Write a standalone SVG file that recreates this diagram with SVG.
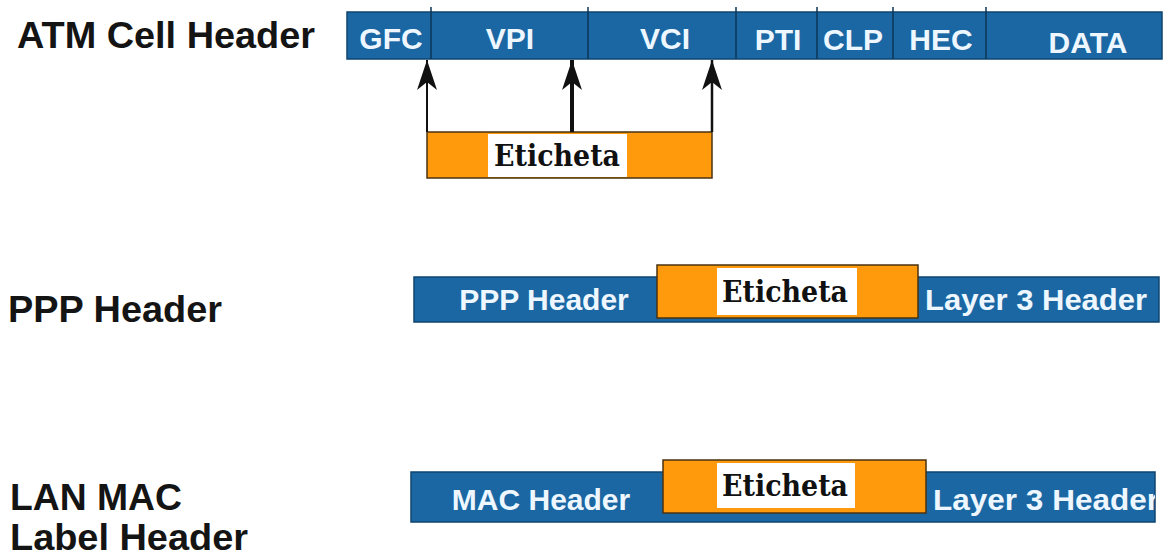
<svg xmlns="http://www.w3.org/2000/svg" width="1168" height="559" viewBox="0 0 1168 559">
<style>
.bg{fill:#ffffff}
.title{font-family:"Liberation Sans",Arial,sans-serif;font-weight:bold;font-size:37px;fill:#141414}
.bar{fill:#1a67a3;stroke:#0e4470;stroke-width:1.5}
.div{stroke:#0d3656;stroke-width:1.5}
.wt{font-family:"Liberation Sans",Arial,sans-serif;font-weight:bold;font-size:30px;fill:#eef7ff}
.lab{fill:#ff9a0c;stroke:#4a3210;stroke-width:1.5}
.lbw{fill:#ffffff}
.et{font-family:"DejaVu Serif","Liberation Serif",serif;font-weight:bold;font-size:30px;fill:#111111}
.arr{stroke:#111111;fill:none}
</style>
<defs>
<marker id="ah" markerUnits="userSpaceOnUse" viewBox="-30 -10 31 20" refX="0" refY="0" markerWidth="31" markerHeight="20" orient="auto">
<path d="M0,0 L-30,-10 L-22,0 L-30,10 Z" fill="#111111"/>
</marker>
<clipPath id="lanclip"><rect x="411" y="460" width="744" height="70"/></clipPath>
</defs>
<rect class="bg" x="0" y="0" width="1168" height="559"/>

<g id="atm-label"><text class="title" x="17" y="48" textLength="298" lengthAdjust="spacingAndGlyphs">ATM Cell Header</text></g>
<g id="ppp-label"><text class="title" x="8" y="322" textLength="214" lengthAdjust="spacingAndGlyphs">PPP Header</text></g>
<g id="lan-label"><text class="title" x="10" y="510" textLength="172" lengthAdjust="spacingAndGlyphs">LAN MAC</text><text class="title" x="10" y="550" textLength="238" lengthAdjust="spacingAndGlyphs">Label Header</text></g>

<g id="atm-header">
<rect class="bar" x="347" y="12" width="815" height="47"/>
<line class="div" x1="431" y1="7" x2="431" y2="59"/>
<line class="div" x1="588" y1="7" x2="588" y2="59"/>
<line class="div" x1="736" y1="7" x2="736" y2="59"/>
<line class="div" x1="817" y1="7" x2="817" y2="59"/>
<line class="div" x1="893" y1="7" x2="893" y2="59"/>
<line class="div" x1="986" y1="7" x2="986" y2="59"/>
<text class="wt" x="391" y="49" text-anchor="middle">GFC</text>
<text class="wt" x="510" y="49" text-anchor="middle">VPI</text>
<text class="wt" x="665" y="49" text-anchor="middle">VCI</text>
<text class="wt" x="778" y="50" text-anchor="middle">PTI</text>
<text class="wt" x="853" y="50" text-anchor="middle">CLP</text>
<text class="wt" x="941" y="50" text-anchor="middle">HEC</text>
<text class="wt" x="1088" y="53" text-anchor="middle">DATA</text>
</g>

<g id="atm-etiqueta">
<rect class="lab" x="427" y="132" width="285" height="46"/>
<rect class="lbw" x="488" y="134" width="139" height="43"/>
<text class="et" x="557" y="166" text-anchor="middle" textLength="126" lengthAdjust="spacingAndGlyphs">Eticheta</text>
</g>

<g id="connectors">
<line class="arr" x1="427" y1="132" x2="427" y2="60" stroke-width="2" marker-end="url(#ah)"/>
<line class="arr" x1="572" y1="132" x2="572" y2="60" stroke-width="4" marker-end="url(#ah)"/>
<line class="arr" x1="712" y1="132" x2="712" y2="60" stroke-width="2.5" marker-end="url(#ah)"/>
</g>

<g id="ppp-header">
<rect class="bar" x="414" y="277" width="745" height="45"/>
<text class="wt" x="544" y="310" text-anchor="middle">PPP Header</text>
<text class="wt" x="925" y="310" textLength="222" lengthAdjust="spacingAndGlyphs">Layer 3 Header</text>
</g>
<g id="ppp-etiqueta">
<rect class="lab" x="657" y="265" width="261" height="53"/>
<rect class="lbw" x="717" y="268" width="140" height="47"/>
<text class="et" x="785" y="302" text-anchor="middle" textLength="126" lengthAdjust="spacingAndGlyphs">Eticheta</text>
</g>

<g id="lan-header">
<rect class="bar" x="411" y="472" width="744" height="50"/>
<g clip-path="url(#lanclip)"><text class="wt" x="933" y="510" textLength="226" lengthAdjust="spacingAndGlyphs">Layer 3 Header</text></g>
<text class="wt" x="541" y="510" text-anchor="middle">MAC Header</text>
</g>
<g id="lan-etiqueta">
<rect class="lab" x="663" y="460" width="263" height="53"/>
<rect class="lbw" x="717" y="463" width="138" height="45"/>
<text class="et" x="785" y="496" text-anchor="middle" textLength="126" lengthAdjust="spacingAndGlyphs">Eticheta</text>
</g>
</svg>
